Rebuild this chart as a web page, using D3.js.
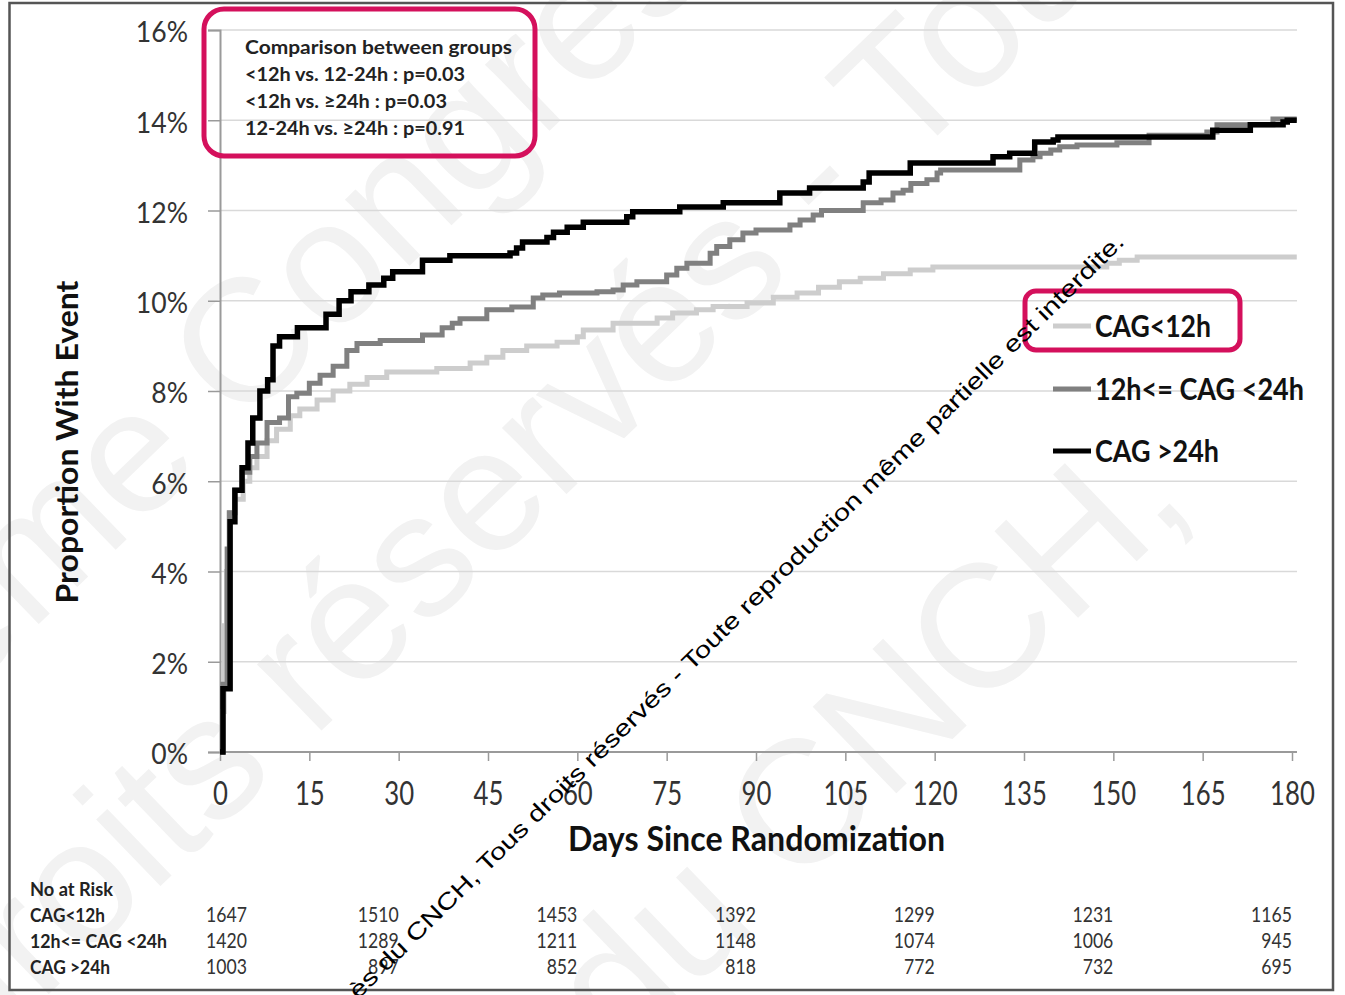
<!DOCTYPE html>
<html><head><meta charset="utf-8">
<script src="https://cdn.jsdelivr.net/npm/d3@7"></script>
<style>body{margin:0;background:#fff} svg{display:block}</style>
</head><body><svg id="c" width="1345" height="995"></svg>
<script>
// ---------- data ----------
const xTicks = [0,15,30,45,60,75,90,105,120,135,150,165,180];
const yTicks = [0,2,4,6,8,10,12,14,16];
const seriesNames = ["CAG<12h","12h<= CAG <24h","CAG >24h"];
const seriesColors = ["#cdcdcd","#808080","#000000"];
// [day, cumulative % with event]
const curveLt12 = [[0,0],[0.4,0.9],[0.7,2.8],[1.1,4.0],[1.5,5.3],[2.5,5.6],[3.9,6.0],[5,6.3],[6.2,6.55],[7.9,6.9],[9.5,7.15],[11.8,7.45],[13.4,7.6],[16.3,7.8],[19,8.0],[21.8,8.15],[24.7,8.3],[28,8.42],[36.4,8.5],[42,8.62],[44.8,8.75],[47.5,8.9],[51.5,9.0],[56.6,9.08],[60,9.2],[61,9.35],[66,9.5],[73.4,9.62],[76,9.73],[80,9.8],[82.8,9.87],[88.5,9.95],[92.9,10.08],[96.9,10.17],[100.5,10.3],[104,10.42],[107.5,10.5],[111.4,10.6],[115.9,10.68],[119.7,10.75],[148.9,10.83],[151,10.9],[154,10.97],[180.8,10.97]];
const curveMid = [[0,0],[0.5,1.5],[1.2,4.5],[1.6,5.3],[2.5,5.8],[3.7,6.2],[5,6.55],[6.2,6.85],[7.9,7.3],[10,7.4],[11.5,7.87],[12.9,7.95],[15,8.17],[16.8,8.35],[19,8.55],[21.3,8.9],[23,9.05],[26.9,9.12],[34,9.24],[37.3,9.4],[39,9.5],[40.3,9.6],[44.8,9.8],[49,9.86],[52.6,10.06],[54.2,10.13],[57,10.17],[63.3,10.2],[66,10.24],[67.7,10.35],[70,10.42],[75,10.57],[76.7,10.72],[78.4,10.83],[82.3,11.05],[83.4,11.2],[85.6,11.35],[87.8,11.5],[90,11.57],[95.7,11.68],[97.4,11.79],[99.6,11.9],[101,12.0],[108,12.17],[111,12.23],[113,12.39],[114.7,12.45],[116,12.6],[118.7,12.68],[120.4,12.83],[121,12.9],[134.3,13.12],[136.5,13.19],[137.7,13.27],[139.5,13.34],[141,13.41],[143.9,13.45],[150.6,13.5],[156,13.67],[165.7,13.74],[167.4,13.9],[176.8,14.03],[180.8,14.03]];
const curveGt24 = [[0,0],[0.5,1.4],[1.7,5.1],[2.5,5.8],[3.7,6.3],[4.7,6.85],[5.5,7.4],[6.7,8.0],[8.0,8.25],[8.9,9.0],[10,9.2],[13,9.4],[17.8,9.7],[20,10.0],[22,10.2],[25,10.35],[27.5,10.5],[29,10.64],[34,10.9],[38.6,11.0],[48.7,11.06],[49.8,11.17],[50.8,11.3],[54.9,11.4],[56,11.52],[58.3,11.63],[61,11.74],[68.3,11.86],[69.3,11.97],[77.2,12.08],[84.5,12.17],[94,12.39],[99,12.5],[108,12.63],[109,12.83],[115.9,13.05],[129.8,13.19],[132.6,13.27],[136.8,13.52],[139.9,13.56],[140.7,13.63],[166.7,13.78],[173,13.9],[178.5,13.96],[179.2,14.0],[180.8,14.0]];
const atRiskDays = [0,30,60,90,120,150,180];
const riskLt12 = [1647,1510,1453,1392,1299,1231,1165];
const riskMid  = [1420,1289,1211,1148,1074,1006,945];
const riskGt24 = [1003,897,852,818,772,732,695];
const pvalLines = ["Comparison between groups","<12h vs. 12-24h : p=0.03","<12h vs. \u226524h : p=0.03","12-24h vs. \u226524h : p=0.91"];
const watermark = "\u00e8s du CNCH, Tous droits r\u00e9serv\u00e9s - Toute reproduction m\u00eame partielle est interdite.";
const bgMarks = ["\u00e8me Congr\u00e8s du","droits r\u00e9serv\u00e9s - Tous","du CNCH,"];

// ---------- layout ----------
const svg = d3.select("#c");
const F = "Lato, 'Open Sans', sans-serif";
const PINK = "#d4105c";
const x = d3.scaleLinear().domain([0,180]).range([220,1292]);
const y = d3.scaleLinear().domain([0,16]).range([752,30]);
const xEnd = x(180)+5;

function condense(sel, sx){
  sel.each(function(){
    const t=d3.select(this);
    const tx=+t.attr("x")||0, ty=+t.attr("y")||0;
    t.attr("transform",`translate(${tx},${ty}) scale(${sx},1) translate(${-tx},${-ty})`);
  });
}

svg.append("rect").attr("width",1345).attr("height",995).attr("fill","#fff");

// faint background watermark
const wm = svg.append("g").attr("fill","#f2f2f2").style("font-family","'Liberation Sans', Arial, sans-serif").style("font-size","175px");
const bgPos = [[-40,700],[-30,1070],[620,1060]];
bgMarks.forEach((s,i)=>{
  const p = bgPos[i];
  wm.append("text").attr("x",p[0]).attr("y",p[1]).attr("transform",`rotate(-44 ${p[0]} ${p[1]})`).text(s);
});

// gridlines
svg.append("g").selectAll("line").data(yTicks.slice(1)).join("line")
  .attr("x1",x(0)).attr("x2",xEnd).attr("y1",d=>y(d)).attr("y2",d=>y(d))
  .attr("stroke","#d9d9d9").attr("stroke-width",1.5);

// y axis
const yAxis = svg.append("g").attr("transform",`translate(${x(0)},0)`)
  .call(d3.axisLeft(y).tickValues(yTicks).tickFormat(d=>d+"%").tickSize(12).tickPadding(20));
yAxis.select(".domain").attr("stroke","#9a9a9a").attr("stroke-width",2);
yAxis.selectAll(".tick line").attr("stroke","#9a9a9a").attr("stroke-width",1.5);
yAxis.selectAll("text").style("font-family",F).style("font-size","28px").attr("fill","#333").attr("x",-32).attr("dy","0.42em");
condense(yAxis.selectAll("text"),0.95);

// x axis
const xAxis = svg.append("g").attr("transform",`translate(0,${y(0)})`)
  .call(d3.axisBottom(x).tickValues(xTicks).tickSize(9).tickSizeOuter(0));
xAxis.select(".domain").attr("d",`M${x(0)},0H${xEnd}`).attr("stroke","#9a9a9a").attr("stroke-width",2);
xAxis.selectAll(".tick line").attr("stroke","#9a9a9a").attr("stroke-width",1.5);
xAxis.selectAll("text").style("font-family",F).style("font-size","33px").attr("fill","#333").attr("y",53).attr("dy",0);
condense(xAxis.selectAll("text"),0.78);

// curves
const line = d3.line().x(d=>x(d[0])).y(d=>y(d[1])).curve(d3.curveStepAfter);
[curveLt12,curveMid,curveGt24].forEach((c,i)=>{
  svg.append("path").datum(c).attr("d",line).attr("fill","none")
    .attr("stroke",seriesColors[i]).attr("stroke-width",i===2?5.5:5).attr("stroke-linejoin","miter");
});

// axis titles
svg.append("text").attr("transform","translate(78,442) rotate(-90)").attr("text-anchor","middle")
  .style("font-family",F).style("font-weight","bold").style("font-size","30px").attr("fill","#111")
  .attr("textLength",323).attr("lengthAdjust","spacingAndGlyphs").text("Proportion With Event");
svg.append("text").attr("x",568).attr("y",851)
  .style("font-family",F).style("font-weight","bold").style("font-size","34px").attr("fill","#111")
  .attr("textLength",377).attr("lengthAdjust","spacingAndGlyphs").text("Days Since Randomization");

// legend
const legY = [326,389,451];
const legW = [116,209,124];
seriesNames.forEach((n,i)=>{
  svg.append("line").attr("x1",1053).attr("x2",1091).attr("y1",legY[i]).attr("y2",legY[i])
    .attr("stroke",seriesColors[i]).attr("stroke-width",5);
  svg.append("text").attr("x",1095).attr("y",legY[i]+11)
    .style("font-family",F).style("font-weight","bold").style("font-size","30px").attr("fill","#111")
    .attr("textLength",legW[i]).attr("lengthAdjust","spacingAndGlyphs").text(n);
});
svg.append("rect").attr("x",1025).attr("y",291).attr("width",215).attr("height",59).attr("rx",11)
  .attr("fill","none").attr("stroke",PINK).attr("stroke-width",5);

// p-value box
const pvW = [267,220,202,220];
pvalLines.forEach((s,i)=>{
  svg.append("text").attr("x",245).attr("y",54+i*27)
    .style("font-family",F).style("font-weight","bold").style("font-size","19px").attr("fill","#222")
    .attr("textLength",pvW[i]).attr("lengthAdjust","spacingAndGlyphs").text(s);
});
svg.append("rect").attr("x",204).attr("y",9).attr("width",331).attr("height",147).attr("rx",20)
  .attr("fill","none").attr("stroke",PINK).attr("stroke-width",5);

// number at risk table
const tableLabels = ["No at Risk"].concat(seriesNames);
const tableLabW = [83,75,137,80];
tableLabels.forEach((s,i)=>{
  svg.append("text").attr("x",30).attr("y",896+i*26)
    .style("font-family",F).style("font-weight","bold").style("font-size","19px").attr("fill","#222")
    .attr("textLength",tableLabW[i]).attr("lengthAdjust","spacingAndGlyphs").text(s);
});
[riskLt12,riskMid,riskGt24].forEach((row,r)=>{
  const g = svg.append("g");
  g.selectAll("text").data(row).join("text")
    .attr("x",(d,j)=>x(atRiskDays[j])+(j===0?27:0)).attr("y",922+r*26)
    .attr("text-anchor","end").style("font-family",F).style("font-size","21px").attr("fill","#333")
    .text(d=>d);
  condense(g.selectAll("text"),0.84);
});

// frame
svg.append("rect").attr("x",9.5).attr("y",3).attr("width",1323.5).attr("height",987)
  .attr("fill","none").attr("stroke","#555").attr("stroke-width",2.5);

// diagonal copyright notice
svg.append("text").attr("x",358).attr("y",1000)
  .attr("transform","rotate(-44.6 358 1000)")
  .style("font-family","'Liberation Sans', Arial, sans-serif").style("font-size","23px").attr("fill","#000")
  .attr("textLength",1078).attr("lengthAdjust","spacingAndGlyphs").text(watermark);
</script></body></html>
